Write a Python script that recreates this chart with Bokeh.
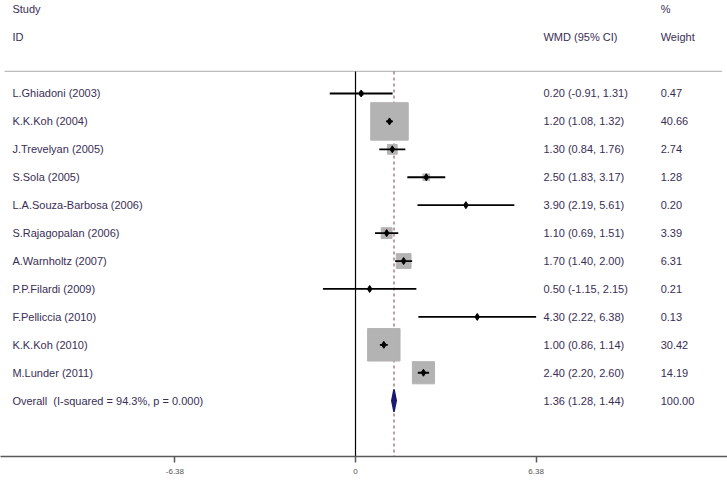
from bokeh.plotting import figure
from bokeh.models import Range1d, FixedTicker, CustomJSTickFormatter, ColumnDataSource
from bokeh.core.properties import value
from bokeh.embed import file_html
from bokeh.resources import INLINE
import math

studies = ["L.Ghiadoni (2003)", "K.K.Koh (2004)", "J.Trevelyan (2005)", "S.Sola (2005)",
           "L.A.Souza-Barbosa (2006)", "S.Rajagopalan (2006)", "A.Warnholtz (2007)",
           "P.P.Filardi (2009)", "F.Pelliccia (2010)", "K.K.Koh (2010)", "M.Lunder (2011)"]
wmd = [0.20, 1.20, 1.30, 2.50, 3.90, 1.10, 1.70, 0.50, 4.30, 1.00, 2.40]
ci_lo = [-0.91, 1.08, 0.84, 1.83, 2.19, 0.69, 1.40, -1.15, 2.22, 0.86, 2.20]
ci_hi = [1.31, 1.32, 1.76, 3.17, 5.61, 1.51, 2.00, 2.15, 6.38, 1.14, 2.60]
weight = [0.47, 40.66, 2.74, 1.28, 0.20, 3.39, 6.31, 0.21, 0.13, 30.42, 14.19]

overall_label = "Overall\u00a0 (I-squared = 94.3%, p = 0.000)"
overall_est, overall_lo, overall_hi, overall_weight = 1.36, 1.28, 1.44, 100.00

tick_values = [-6.38, 0, 6.38]

FONT = "Liberation Sans"
TXT = "#3a2e55"

rows = list(range(1, len(studies) + 1))
overall_row = len(studies) + 1

p = figure(width=727, height=480, output_backend="svg", toolbar_location=None,
           x_range=Range1d(-12.54, 13.14), y_range=Range1d(14.0, -2.33),
           min_border_left=0, min_border_right=0, min_border_top=0, min_border_bottom=24)
p.outline_line_color = None
p.grid.visible = False
p.yaxis.visible = False
p.background_fill_color = "white"

xa = p.xaxis[0]
xa.ticker = FixedTicker(ticks=tick_values)
xa.formatter = CustomJSTickFormatter(code="return tick == 0 ? '0' : tick.toFixed(2);")
xa.axis_line_color = "#5a5a5a"
xa.axis_line_width = 1.5
xa.major_tick_line_color = "#5a5a5a"
xa.major_tick_line_width = 1.5
xa.major_tick_out = 6
xa.major_tick_in = 0
xa.minor_tick_line_color = None
xa.major_label_text_font = FONT
xa.major_label_text_font_size = "8px"
xa.major_label_text_color = "#555555"
xa.major_label_standoff = 6

sep_row = 0.21
axis_row = 14.0
# separator line
p.segment(x0=[-12.4], y0=[sep_row], x1=[12.95], y1=[sep_row], line_color="#bdbdbd", line_width=1.2)
# null line
p.segment(x0=[0], y0=[sep_row], x1=[0], y1=[axis_row], line_color="black", line_width=1.2)
# overall dashed line
p.segment(x0=[overall_est], y0=[sep_row], x1=[overall_est], y1=[axis_row],
          line_color="#9a5a6a", line_width=1.2, line_dash="3 3")

sizes = [5.88 * math.sqrt(w) for w in weight]
src = ColumnDataSource(dict(y=rows, est=wmd, lo=ci_lo, hi=ci_hi, size=sizes))
p.scatter(x="est", y="y", size="size", marker="square", source=src,
          fill_color="#b3b3b3", line_color="#b3b3b3")
p.segment(x0="lo", y0="y", x1="hi", y1="y", source=src, line_color="black", line_width=1.8)
p.scatter(x="est", y="y", size=7, marker="diamond", source=src,
          fill_color="black", line_color="black")

# overall diamond
p.patch(x=[overall_lo, overall_est, overall_hi, overall_est],
        y=[overall_row, overall_row - 0.4, overall_row, overall_row + 0.4],
        fill_color="#1a1a70", line_color="#1a1a70", line_width=1.5)

# text columns
x_study, x_wmd, x_wt = -12.12, 6.64, 10.78
labels = studies + [overall_label]
wmd_txt = ["%.2f (%.2f, %.2f)" % (e, l, h) for e, l, h in zip(wmd, ci_lo, ci_hi)]
wmd_txt.append("%.2f (%.2f, %.2f)" % (overall_est, overall_lo, overall_hi))
wt_txt = ["%.2f" % w for w in weight] + ["%.2f" % overall_weight]
all_rows = rows + [overall_row]

common = dict(text_font=value(FONT), text_font_size="11px", text_color=TXT,
              text_baseline="middle", text_align="left")
p.text(x=[x_study] * len(labels), y=all_rows, text=labels, **common)
p.text(x=[x_wmd] * len(labels), y=all_rows, text=wmd_txt, **common)
p.text(x=[x_wt] * len(labels), y=all_rows, text=wt_txt, **common)

# headers
p.text(x=[x_study, x_study, x_wmd, x_wt, x_wt], y=[-2.04, -1.02, -1.02, -2.04, -1.02],
       text=["Study", "ID", "WMD (95% CI)", "%", "Weight"], **common)

open("out.html", "w").write(file_html(p, INLINE))
